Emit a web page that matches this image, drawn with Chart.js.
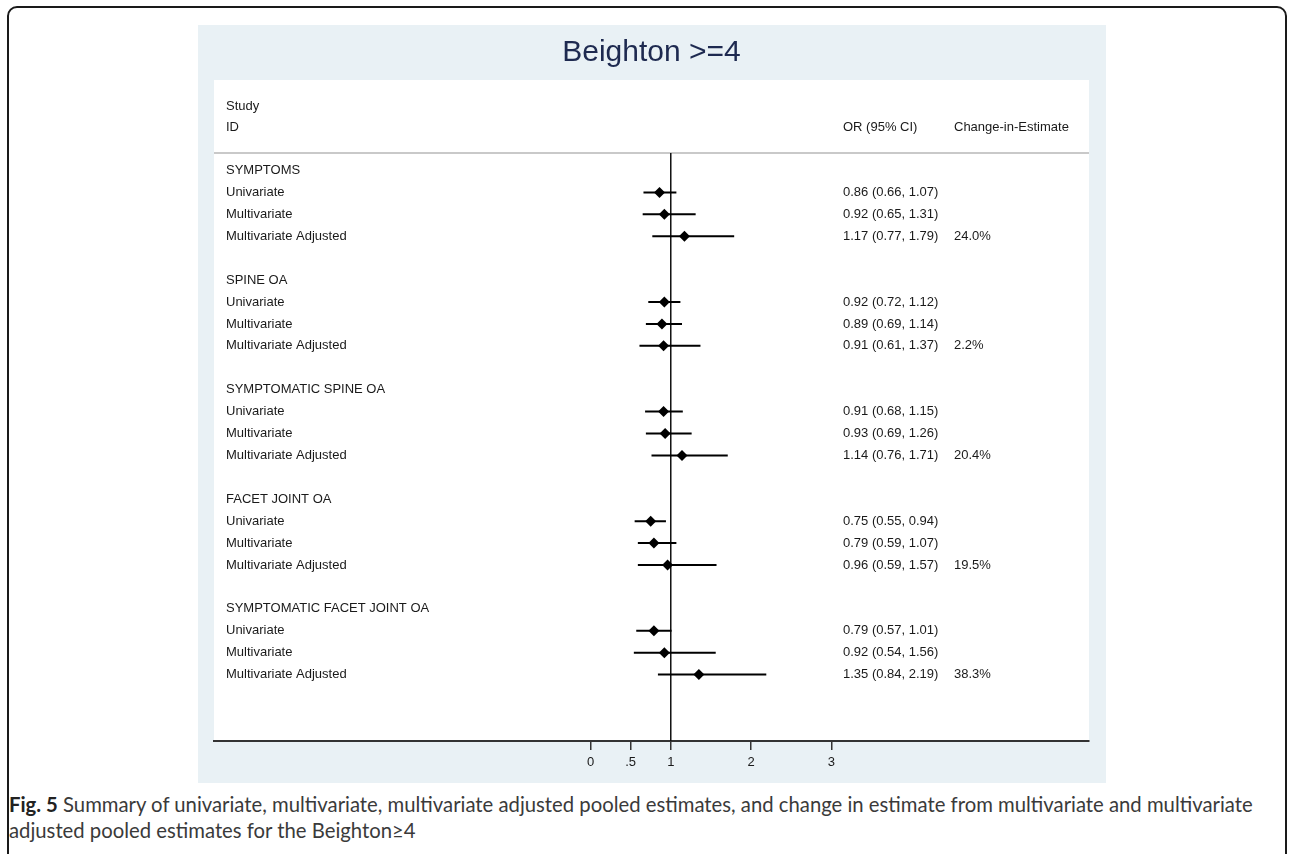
<!DOCTYPE html>
<html>
<head>
<meta charset="utf-8">
<script src="https://cdn.jsdelivr.net/npm/chart.js@4/dist/chart.umd.min.js"></script>
<style>
  html, body { margin: 0; padding: 0; background: #fff; overflow: hidden; }
  body { width: 1292px; height: 854px; position: relative; }
  #frame { position: absolute; left: 7px; top: 6px; width: 1280px; height: 900px;
           border: 2px solid #1a1a1a; border-radius: 10px; box-sizing: border-box; }
  #wrap { position: absolute; left: 198px; top: 25px; width: 908px; height: 758px; }
  #caption { position: absolute; left: 9px; top: 791px; width: 1275px; white-space: nowrap;
             font-family: Lato, "Open Sans", sans-serif; font-size: 20.3px; line-height: 26px; color: #3a3a3a; }
  #caption b { color: #222; }
</style>
</head>
<body>
<div id="frame"></div>
<div id="wrap"><canvas id="forest"></canvas></div>
<div id="caption"><b>Fig. 5</b> Summary of univariate, multivariate, multivariate adjusted pooled estimates, and change in estimate from multivariate and multivariate<br>adjusted pooled estimates for the Beighton≥4</div>
<script>
const groups = ["SYMPTOMS", "SPINE OA", "SYMPTOMATIC SPINE OA", "FACET JOINT OA", "SYMPTOMATIC FACET JOINT OA"];
const models = ["Univariate", "Multivariate", "Multivariate Adjusted"];

// one entry per group x model, in order
const orValues = [0.86, 0.92, 1.17, 0.92, 0.89, 0.91, 0.91, 0.93, 1.14, 0.75, 0.79, 0.96, 0.79, 0.92, 1.35];
const ciLow    = [0.66, 0.65, 0.77, 0.72, 0.69, 0.61, 0.68, 0.69, 0.76, 0.55, 0.59, 0.59, 0.57, 0.54, 0.84];
const ciHigh   = [1.07, 1.31, 1.79, 1.12, 1.14, 1.37, 1.15, 1.26, 1.71, 0.94, 1.07, 1.57, 1.01, 1.56, 2.19];
const changeInEstimate = ["", "", "24.0%", "", "", "2.2%", "", "", "20.4%", "", "", "19.5%", "", "", "38.3%"];

const xTicks = [0, 0.5, 1, 2, 3];
const xTickLabels = ["0", ".5", "1", "2", "3"];

const ROWS_PER_GROUP = 5;
const HEADER_LINE_ROW = -0.8;
const Y_TOP = -4.13, Y_BOTTOM = 26.03;

const rowOf = i => Math.floor(i / 3) * ROWS_PER_GROUP + 1 + (i % 3);

const points = orValues.map((v, i) => ({ x: v, y: rowOf(i) }));
const ciSegments = [];
orValues.forEach((v, i) => {
    ciSegments.push({ x: ciLow[i], y: rowOf(i) }, { x: ciHigh[i], y: rowOf(i) }, { x: NaN, y: NaN });
});

const FONT = '13px "Liberation Sans", Arial, sans-serif';

const forestText = {
    id: "forestText",
    beforeDraw(chart) {
        const { ctx, chartArea: a, width, height } = chart;
        ctx.save();
        ctx.fillStyle = "#e9f1f5";
        ctx.fillRect(0, 0, width, height);
        ctx.fillStyle = "#ffffff";
        ctx.fillRect(a.left, a.top, a.right - a.left, a.bottom - a.top);
        const y = chart.scales.y;
        ctx.strokeStyle = "#c9c9c9";
        ctx.lineWidth = 2;
        ctx.beginPath();
        ctx.moveTo(a.left, y.getPixelForValue(HEADER_LINE_ROW));
        ctx.lineTo(a.right, y.getPixelForValue(HEADER_LINE_ROW));
        ctx.stroke();
        ctx.restore();
    },
    afterDatasetsDraw(chart) {
        const { ctx, chartArea: a } = chart;
        const y = chart.scales.y;
        const labelX = a.left + 12, orX = a.left + 629, chX = a.left + 740;
        ctx.save();
        ctx.font = FONT;
        ctx.fillStyle = "#1a1a1a";
        ctx.textBaseline = "middle";
        ctx.textAlign = "left";
        ctx.fillText("Study", labelX, y.getPixelForValue(-2.94));
        ctx.fillText("ID", labelX, y.getPixelForValue(-1.98));
        ctx.fillText("OR (95% CI)", orX, y.getPixelForValue(-1.98));
        ctx.fillText("Change-in-Estimate", chX, y.getPixelForValue(-1.98));
        groups.forEach((g, gi) => {
            ctx.fillText(g, labelX, y.getPixelForValue(gi * ROWS_PER_GROUP));
        });
        orValues.forEach((v, i) => {
            const py = y.getPixelForValue(rowOf(i));
            ctx.fillText(models[i % 3], labelX, py);
            ctx.fillText(v.toFixed(2) + " (" + ciLow[i].toFixed(2) + ", " + ciHigh[i].toFixed(2) + ")", orX, py);
            if (changeInEstimate[i]) ctx.fillText(changeInEstimate[i], chX, py);
        });
        ctx.restore();
    }
};

new Chart(document.getElementById("forest"), {
    type: "scatter",
    data: {
        datasets: [
            {
                type: "line",
                data: [{ x: 1, y: HEADER_LINE_ROW }, { x: 1, y: Y_BOTTOM }],
                borderColor: "#111",
                borderWidth: 1.5,
                pointRadius: 0,
                order: 3
            },
            {
                type: "line",
                data: ciSegments,
                borderColor: "#000",
                borderWidth: 2,
                pointRadius: 0,
                spanGaps: false,
                order: 2
            },
            {
                data: points,
                pointStyle: "rectRot",
                pointRadius: 5.5,
                backgroundColor: "#000",
                borderColor: "#000",
                borderWidth: 0,
                order: 1
            }
        ]
    },
    options: {
        responsive: true,
        maintainAspectRatio: false,
        animation: false,
        events: [],
        layout: { padding: { left: 16, right: 17, top: 0, bottom: 0 } },
        plugins: {
            legend: { display: false },
            tooltip: { enabled: false },
            title: {
                display: true,
                text: "Beighton >=4",
                color: "#1e2a50",
                font: { family: '"Liberation Sans", Arial, sans-serif', size: 30, weight: "normal", lineHeight: 1 },
                padding: { top: 13, bottom: 12 }
            }
        },
        scales: {
            x: {
                type: "linear",
                min: -4.69,
                max: 6.21,
                afterBuildTicks: s => { s.ticks = xTicks.map(v => ({ value: v })); },
                afterFit: s => { s.height = 42; },
                ticks: {
                    autoSkip: false,
                    maxRotation: 0,
                    padding: 5,
                    color: "#1a1a1a",
                    font: { family: '"Liberation Sans", Arial, sans-serif', size: 13 },
                    callback: v => xTickLabels[xTicks.indexOf(v)]
                },
                grid: { drawOnChartArea: false, tickLength: 9, color: "#333", lineWidth: 1.5 },
                border: { display: true, color: "#333", width: 2 }
            },
            y: {
                type: "linear",
                reverse: true,
                min: Y_TOP,
                max: Y_BOTTOM,
                display: false
            }
        }
    },
    plugins: [forestText]
});
</script>
</body>
</html>
